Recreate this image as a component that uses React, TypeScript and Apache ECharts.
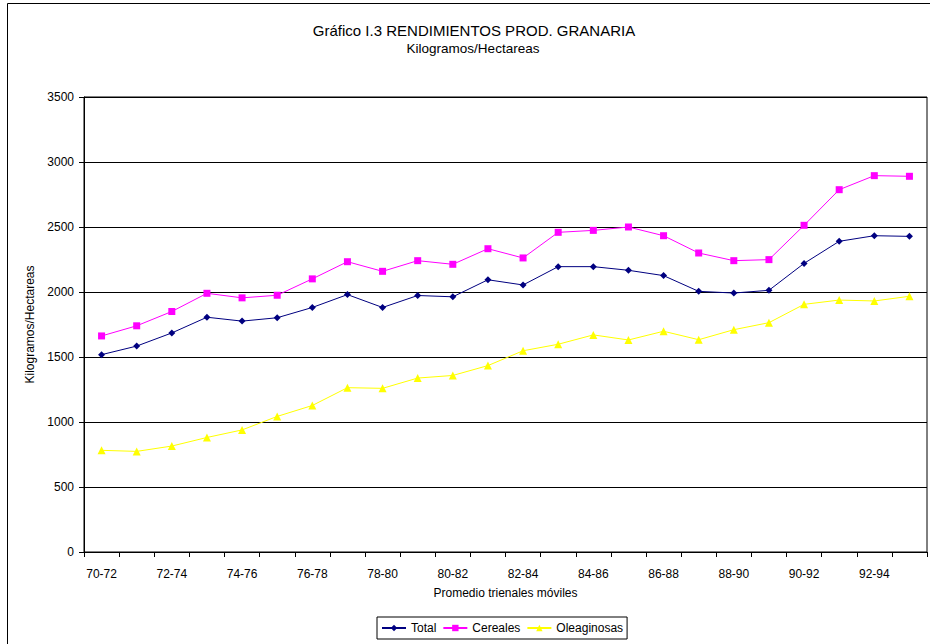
import React, { useEffect, useRef } from "react";
import * as echarts from "echarts";

const categories = [
  "70-72", "71-73", "72-74", "73-75", "74-76", "75-77", "76-78", "77-79",
  "78-80", "79-81", "80-82", "81-83", "82-84", "83-85", "84-86", "85-87",
  "86-88", "87-89", "88-90", "89-91", "90-92", "91-93", "92-94", "93-95",
];
const total = [1518, 1584, 1685, 1806, 1776, 1802, 1881, 1980, 1881, 1973, 1963, 2094, 2054, 2195, 2195, 2167, 2126, 2005, 1992, 2013, 2220, 2390, 2433, 2428];
const cereales = [1662, 1740, 1850, 1990, 1955, 1975, 2101, 2233, 2159, 2241, 2213, 2333, 2262, 2459, 2474, 2500, 2433, 2300, 2241, 2249, 2513, 2787, 2895, 2890];
const oleaginosas = [782, 774, 815, 881, 939, 1043, 1127, 1264, 1259, 1338, 1358, 1434, 1548, 1598, 1670, 1631, 1698, 1633, 1710, 1764, 1905, 1938, 1931, 1967];

const FONT = "'Liberation Sans', Arial, sans-serif";

export default function App() {
  const ref = useRef<HTMLDivElement>(null);
  useEffect(() => {
    if (!ref.current) return;
    const chart = echarts.init(ref.current, undefined, { renderer: "svg" });
    chart.setOption({
      animation: false,
      backgroundColor: "#fff",
      textStyle: { fontFamily: FONT, color: "#000" },
      graphic: [
        { type: "rect", shape: { x: 7.5, y: 3.5, width: 940, height: 660 }, style: { fill: "none", stroke: "#000", lineWidth: 1 }, silent: true },
        { type: "text", x: 474, y: 30, style: { text: "Gráfico I.3 RENDIMIENTOS PROD. GRANARIA", font: `15px ${FONT}`, fill: "#000", textAlign: "center", textVerticalAlign: "middle" } },
        { type: "text", x: 473, y: 48, style: { text: "Kilogramos/Hectareas", font: `13.5px ${FONT}`, fill: "#000", textAlign: "center", textVerticalAlign: "middle" } },
      ],
      grid: { left: 84, top: 97, right: 3, bottom: 92, show: true, borderColor: "#000", borderWidth: 1, backgroundColor: "transparent" },
      legend: {
        left: 377, top: 617,
        padding: [5, 4, 5, 4],
        itemGap: 6, itemWidth: 24, itemHeight: 8,
        borderColor: "#000", borderWidth: 1,
        textStyle: { fontSize: 12, color: "#000", fontFamily: FONT },
        data: ["Total", "Cereales", "Oleaginosas"],
      },
      xAxis: {
        type: "category",
        data: categories,
        boundaryGap: true,
        name: "Promedio trienales móviles",
        nameLocation: "middle",
        nameGap: 35,
        nameTextStyle: { fontSize: 12, color: "#000" },
        axisLine: { lineStyle: { color: "#000", width: 1 } },
        axisTick: { show: true, interval: 0, length: 5, lineStyle: { color: "#000" } },
        axisLabel: { interval: 1, fontSize: 12, color: "#000", margin: 16 },
        splitLine: { show: false },
      },
      yAxis: {
        type: "value",
        min: 0, max: 3500, interval: 500,
        name: "Kilogramos/Hectareas",
        nameLocation: "middle",
        nameGap: 43,
        nameTextStyle: { fontSize: 12, color: "#000" },
        axisLine: { show: true, lineStyle: { color: "#000", width: 1 } },
        axisTick: { show: true, length: 5, lineStyle: { color: "#000" } },
        axisLabel: { fontSize: 12, color: "#000", margin: 10, formatter: (v: number) => String(v) },
        splitLine: { show: true, lineStyle: { color: "#000", width: 1 } },
      },
      series: [
        { name: "Total", type: "line", data: total, symbol: "diamond", symbolSize: 7, lineStyle: { color: "#000080", width: 1 }, itemStyle: { color: "#000080" } },
        { name: "Cereales", type: "line", data: cereales, symbol: "rect", symbolSize: 7, lineStyle: { color: "#FF00FF", width: 1 }, itemStyle: { color: "#FF00FF" } },
        { name: "Oleaginosas", type: "line", data: oleaginosas, symbol: "triangle", symbolSize: 8, lineStyle: { color: "#FFFF00", width: 1 }, itemStyle: { color: "#FFFF00" } },
      ],
    });
    return () => chart.dispose();
  }, []);
  return (
    <div style={{ position: "absolute", left: 0, top: 0, width: 930, height: 644, background: "#fff" }}>
      <div ref={ref} style={{ width: 930, height: 644 }} />
    </div>
  );
}
